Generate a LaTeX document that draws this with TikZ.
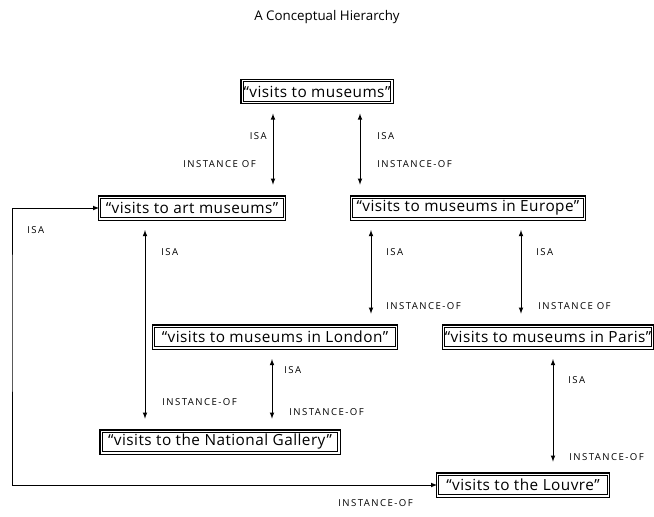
\documentclass[tikz,border=0pt]{standalone}
\usepackage{fontspec}
\setmainfont{Open Sans}
\newfontfamily\boxfont{Open Sans}[LetterSpace=3]
\newfontfamily\tagfont{Open Sans}[LetterSpace=15]
\usepackage{tikz}

\begin{document}
\begin{tikzpicture}[x=0.75pt, y=-0.75pt, >=latex,
    concept/.style={draw, double, double distance=1pt, line width=0.8pt,
        minimum height=16.25pt, inner sep=1pt, font=\boxfont\fontsize{11.5}{13}\selectfont},
    rel/.style={<->, line width=0.6pt, shorten <=8pt, shorten >=9pt},
    tag/.style={inner sep=0pt, font=\tagfont\fontsize{7.2}{8}\selectfont}]
    \useasboundingbox (0,0) rectangle (654,517);

    \node (title) at (327,17) {\fontsize{10}{12}\selectfont A Conceptual Hierarchy};

    % the concepts
    \node[concept, minimum width=112.25pt] (b1) at (317,91.5) {“visits to museums”};
    \node[concept, minimum width=138.5pt] (b2) at (192,208) {“visits to art museums”};
    \node[concept, minimum width=174.5pt] (b3) at (468,208) {“visits to museums in Europe”};
    \node[concept, minimum width=182pt] (b4) at (275,337) {“visits to museums in London”};
    \node[concept, minimum width=154pt] (b5) at (548,337) {“visits to museums in Paris”};
    \node[concept, minimum width=178.25pt] (b6) at (220,442) {“visits to the National Gallery”};
    \node[concept, minimum width=128pt] (b7) at (523,485) {“visits to the Louvre”};

    % the links
    \draw[rel] (b1.south -| 273,0) -- (b2.north -| 273,0);
    \draw[rel] (b1.south -| 360,0) -- (b3.north -| 360,0);
    \draw[rel] (b3.south -| 371,0) -- (b4.north -| 371,0);
    \draw[rel] (b3.south -| 521,0) -- (b5.north -| 521,0);
    \draw[rel] (b2.south -| 145,0) -- (b6.north -| 145,0);
    \draw[rel] (b4.south -| 272,0) -- (b6.north -| 272,0);
    \draw[rel] (b5.south -| 553,0) -- (b7.north -| 553,0);
    \coordinate (bend) at (12,300);
    \draw[<->, line width=0.6pt] (b2.west) -| (bend) |- (b7.west);

    % the labels
    \node[tag, anchor=east] (isa1) at (267,136) {ISA};
    \node[tag, anchor=east] (inst1) at (256,164) {INSTANCE OF};
    \node[tag, anchor=west] (isa2) at (377,136) {ISA};
    \node[tag, anchor=west] (inst2) at (377,164) {INSTANCE-OF};
    \node[tag, anchor=west] (isa3) at (386,252) {ISA};
    \node[tag, anchor=west] (inst3) at (386,306) {INSTANCE-OF};
    \node[tag, anchor=west] (isa4) at (536,252) {ISA};
    \node[tag, anchor=west] (inst4) at (538,306) {INSTANCE OF};
    \node[tag, anchor=west] (isa5) at (161,252) {ISA};
    \node[tag, anchor=west] (inst5) at (162,402) {INSTANCE-OF};
    \node[tag, anchor=west] (isa6) at (284,370) {ISA};
    \node[tag, anchor=west] (inst6) at (289,412) {INSTANCE-OF};
    \node[tag, anchor=west] (isa7) at (568,380) {ISA};
    \node[tag, anchor=west] (inst7) at (569,457) {INSTANCE-OF};
    \node[tag, anchor=west] (isa8) at (27,230) {ISA};
    \node[tag, anchor=east] (inst8) at (413,503) {INSTANCE-OF};
\end{tikzpicture}
\end{document}
